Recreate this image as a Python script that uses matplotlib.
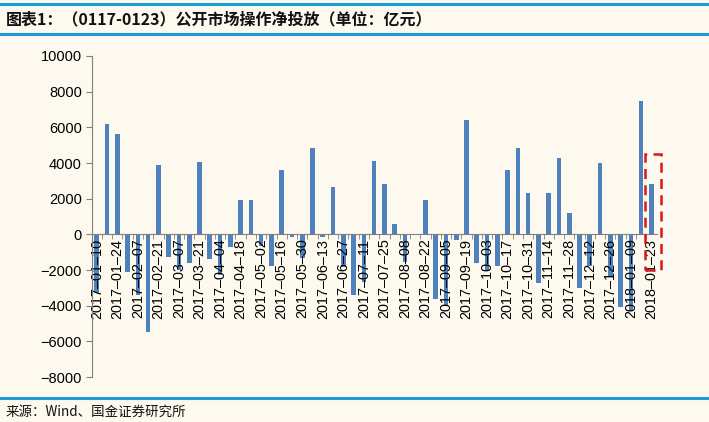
import matplotlib
matplotlib.use("Agg")
import matplotlib.pyplot as plt
from matplotlib.patches import Rectangle
import numpy as np
import datetime as dt

# ---- data ----
start_date = "2017-01-10"
n_weeks = 55
values = [
    -3300, 6200, 5650, -2100, -3400, -5450, 3900, -1250, -2000, -1600,
    4050, -1400, -2300, -700, 1950, 1900, -650, -1800, 3600, -150,
    -1350, 4850, -150, 2650, -1850, -3400, -2650, 4100, 2850, 600,
    -1550, 0, 1900, -3600, -4000, -330, 6400, -1600, -2000, -1800,
    3600, 4850, 2300, -2750, 2300, 4300, 1200, -3000, -1800, 4000,
    -2400, -4100, -4300, 7450, 2850,
]
d0 = dt.date.fromisoformat(start_date)
dates = [(d0 + dt.timedelta(days=7 * i)).isoformat() for i in range(n_weeks)]
y_ticks = [10000, 8000, 6000, 4000, 2000, 0, -2000, -4000, -6000, -8000]
title = "图表1：（0117-0123）公开市场操作净投放（单位：亿元）"
source = "来源：Wind、国金证券研究所"
highlight_low, highlight_high = -2000, 4500

# ---- style ----
bg = "#FDF9EE"
bar_color = "#4F81BD"
line_blue = "#1B9BD7"
cjk = ["Noto Sans CJK SC", "DejaVu Sans"]

fig = plt.figure(figsize=(7.09, 4.22), dpi=100, facecolor=bg)
ax = fig.add_axes([0.1293, 0.1066, 0.7967, 0.7607], facecolor=bg)

x = np.arange(len(values))
ax.bar(x, values, width=0.45, color=bar_color, zorder=1)

ax.set_ylim(-8000, 10000)
ax.set_xlim(-0.5, len(values) - 0.5)
ax.set_yticks(y_ticks)
ax.set_yticklabels([f"{v}".replace("-", "\u2212") for v in y_ticks],
                   fontfamily="Liberation Sans", fontsize=10.5)

for s in ["top", "right"]:
    ax.spines[s].set_visible(False)
ax.spines["left"].set_color("#808080")
ax.spines["bottom"].set_color("#808080")
ax.spines["bottom"].set_position(("data", 0))
ax.tick_params(axis="y", direction="out", length=4, color="#808080", pad=3)

# labels every other week, tick marks between categories
lab_idx = x[::2]
ax.set_xticks(lab_idx)
ax.set_xticklabels([dates[i].replace("-", "\u2013") for i in lab_idx],
                   rotation=90, fontfamily="Liberation Sans", fontsize=10.4)
ax.tick_params(axis="x", which="major", length=0, pad=3)
ax.set_xticks(np.arange(len(values)) - 0.5, minor=True)
ax.tick_params(axis="x", which="minor", length=3.5, direction="out", color="#808080")

# highlight box around latest week
last = len(values) - 1
rect = Rectangle((last - 0.62, highlight_low), 1.55,
                 highlight_high - highlight_low, fill=False, edgecolor="#D7191C",
                 linestyle=(0, (4, 2.5)), linewidth=1.8, clip_on=False, zorder=5)
ax.add_patch(rect)

# header / footer lines and text
for yy in [1 - 4 / 422, 1 - 34 / 422, 1 - 398 / 422]:
    fig.add_artist(plt.Line2D([0.0, 1.0], [yy, yy], color=line_blue, lw=2.2,
                              transform=fig.transFigure))
fig.text(0.008, 1 - 19.5 / 422, title, family=cjk, fontsize=11.5, fontweight="bold",
         va="center", ha="left", color="#111111")
fig.text(0.008, 1 - 411.5 / 422, source, family=cjk, fontsize=9.7,
         va="center", ha="left", color="#111111")

fig.savefig("out.png", dpi=100, facecolor=bg)
